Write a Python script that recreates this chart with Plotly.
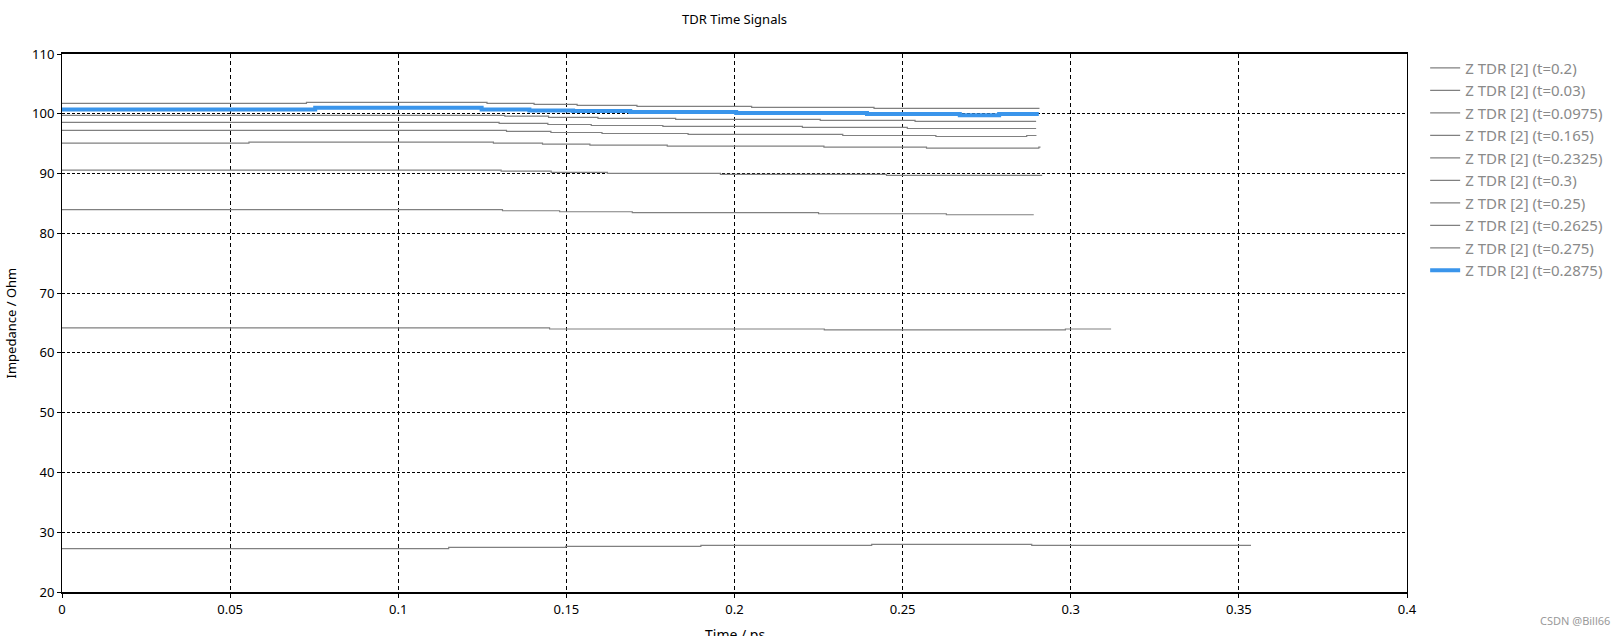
import plotly.graph_objects as go

# temps (ps) aux changements de palier, et impédance (Ohm) de chaque palier
t_a = [0, 0.0727, 0.1264, 0.1404, 0.1532, 0.171, 0.2051, 0.2415, 0.2907]
z_a = [101.73, 101.9, 101.73, 101.56, 101.40, 101.23, 101.06, 100.89, 100.89]

t_c = [0, 0.1317, 0.1447, 0.1594, 0.1825, 0.2255, 0.2537, 0.2897]
z_c = [99.72, 99.6, 99.39, 99.22, 99.05, 98.88, 98.72, 98.72]

t_d = [0, 0.130, 0.1445, 0.1574, 0.1787, 0.2202, 0.2514, 0.2897]
z_d = [98.55, 98.38, 98.21, 98.04, 97.88, 97.71, 97.54, 97.54]

t_e = [0, 0.1322, 0.1454, 0.1606, 0.1862, 0.2322, 0.2599, 0.2869, 0.2898]
z_e = [97.21, 97.04, 96.87, 96.70, 96.54, 96.37, 96.2, 96.37, 96.37]

t_f = [0, 0.0556, 0.1283, 0.1429, 0.157, 0.18, 0.2266, 0.2571, 0.2905, 0.291]
z_f = [95.08, 95.25, 95.08, 94.92, 94.75, 94.58, 94.41, 94.25, 94.41, 94.41]

t_g = [0, 0.1306, 0.1455, 0.1622, 0.1958, 0.2452, 0.2915]
z_g = [90.56, 90.39, 90.2, 90.03, 89.86, 89.68, 89.68]

t_h = [0, 0.131, 0.148, 0.1696, 0.225, 0.263, 0.289]
z_h = [83.95, 83.78, 83.61, 83.45, 83.28, 83.11, 83.11]

t_i = [0, 0.145, 0.2267, 0.2984, 0.312]
z_i = [64.17, 64.0, 63.84, 64.0, 64.0]

t_j = [0, 0.115, 0.1498, 0.190, 0.2408, 0.2884, 0.3536]
z_j = [27.24, 27.45, 27.62, 27.79, 27.96, 27.79, 27.79]

t_bleu = [0, 0.0753, 0.1248, 0.139, 0.152, 0.169, 0.2005, 0.2394, 0.267, 0.2787, 0.2905]
z_bleu = [100.73, 101.0, 100.73, 100.55, 100.45, 100.28, 100.11, 99.96, 99.75, 99.96, 99.96]

noms = ["Z TDR [2] (t=0.2)", "Z TDR [2] (t=0.03)", "Z TDR [2] (t=0.0975)",
        "Z TDR [2] (t=0.165)", "Z TDR [2] (t=0.2325)", "Z TDR [2] (t=0.3)",
        "Z TDR [2] (t=0.25)", "Z TDR [2] (t=0.2625)", "Z TDR [2] (t=0.275)"]
nom_bleu = "Z TDR [2] (t=0.2875)"

x_ticks = [0, 0.05, 0.1, 0.15, 0.2, 0.25, 0.3, 0.35, 0.4]
x_labels = ["0", "0.05", "0.1", "0.15", "0.2", "0.25", "0.3", "0.35", "0.4"]
y_ticks = [20, 30, 40, 50, 60, 70, 80, 90, 100, 110]

series = [(t_a, z_a), (t_c, z_c), (t_d, z_d), (t_e, z_e), (t_f, z_f),
          (t_g, z_g), (t_h, z_h), (t_i, z_i), (t_j, z_j)]

gris = "#808080"
bleu = "#3a95eb"
police = "Noto Sans"

fig = go.Figure()
for (t, z), nom in zip(series, noms):
    fig.add_trace(go.Scatter(x=t, y=z, name=nom, mode="lines", line_shape="hv",
                             line=dict(color=gris, width=1.2)))

fig.add_trace(go.Scatter(x=t_bleu, y=z_bleu, name=nom_bleu, mode="lines", line_shape="hv",
                         line=dict(color=bleu, width=4)))

fig.update_layout(
    width=1622, height=636,
    margin=dict(l=62, r=215, t=54, b=44),
    paper_bgcolor="white", plot_bgcolor="white",
    font=dict(family=police, size=13, color="black"),
    title=dict(text="TDR Time Signals", x=(62 + 1407) / 2 / 1622, xanchor="center",
               y=1 - 19 / 636, yanchor="middle", font=dict(size=13, color="black")),
    showlegend=True,
    legend=dict(x=1.0135, xanchor="left", y=1.0045, yanchor="top",
                font=dict(size=15, color="#8a8a8a"), bgcolor="rgba(0,0,0,0)",
                tracegroupgap=0),
)

fig.update_xaxes(range=[0, 0.4], tickvals=x_ticks, ticktext=x_labels,
                 showgrid=True, gridcolor="black", gridwidth=1, griddash="4px,3px",
                 showline=True, linecolor="black", linewidth=2, mirror=True,
                 ticks="outside", ticklen=4, tickcolor="black", zeroline=False,
                 tickfont=dict(size=13, color="black"))
fig.update_yaxes(range=[20, 110], tickvals=y_ticks,
                 showgrid=True, gridcolor="black", gridwidth=1, griddash="3px,2px",
                 showline=True, linecolor="black", linewidth=1, mirror=True,
                 ticks="outside", ticklen=4, tickcolor="black", zeroline=False,
                 tickfont=dict(size=13, color="black"))

# titres d'axes et filigrane
fig.add_annotation(text="Impedance / Ohm", xref="paper", yref="paper",
                   x=-51.5 / 1345, y=0.5, xanchor="center", yanchor="middle",
                   textangle=-90, showarrow=False, font=dict(size=13, color="black"))
fig.add_annotation(text="Time / ps", xref="paper", yref="paper",
                   x=0.5, y=-(634 - 591.7) / 537.4, xanchor="center", yanchor="middle",
                   showarrow=False, font=dict(size=14, color="black"))
fig.add_annotation(text="CSDN @Bill66", xref="paper", yref="paper",
                   x=(1612 - 62) / 1345, y=-(620 - 591.7) / 537.4, xanchor="right",
                   yanchor="middle", showarrow=False, font=dict(size=11, color="#9a9a9a"))

# pas de marge autour de la figure dans la page, pas de barre d'outils
fig.write_html("out.html", config={"displayModeBar": False},
               post_script="document.body.style.margin='0';")
